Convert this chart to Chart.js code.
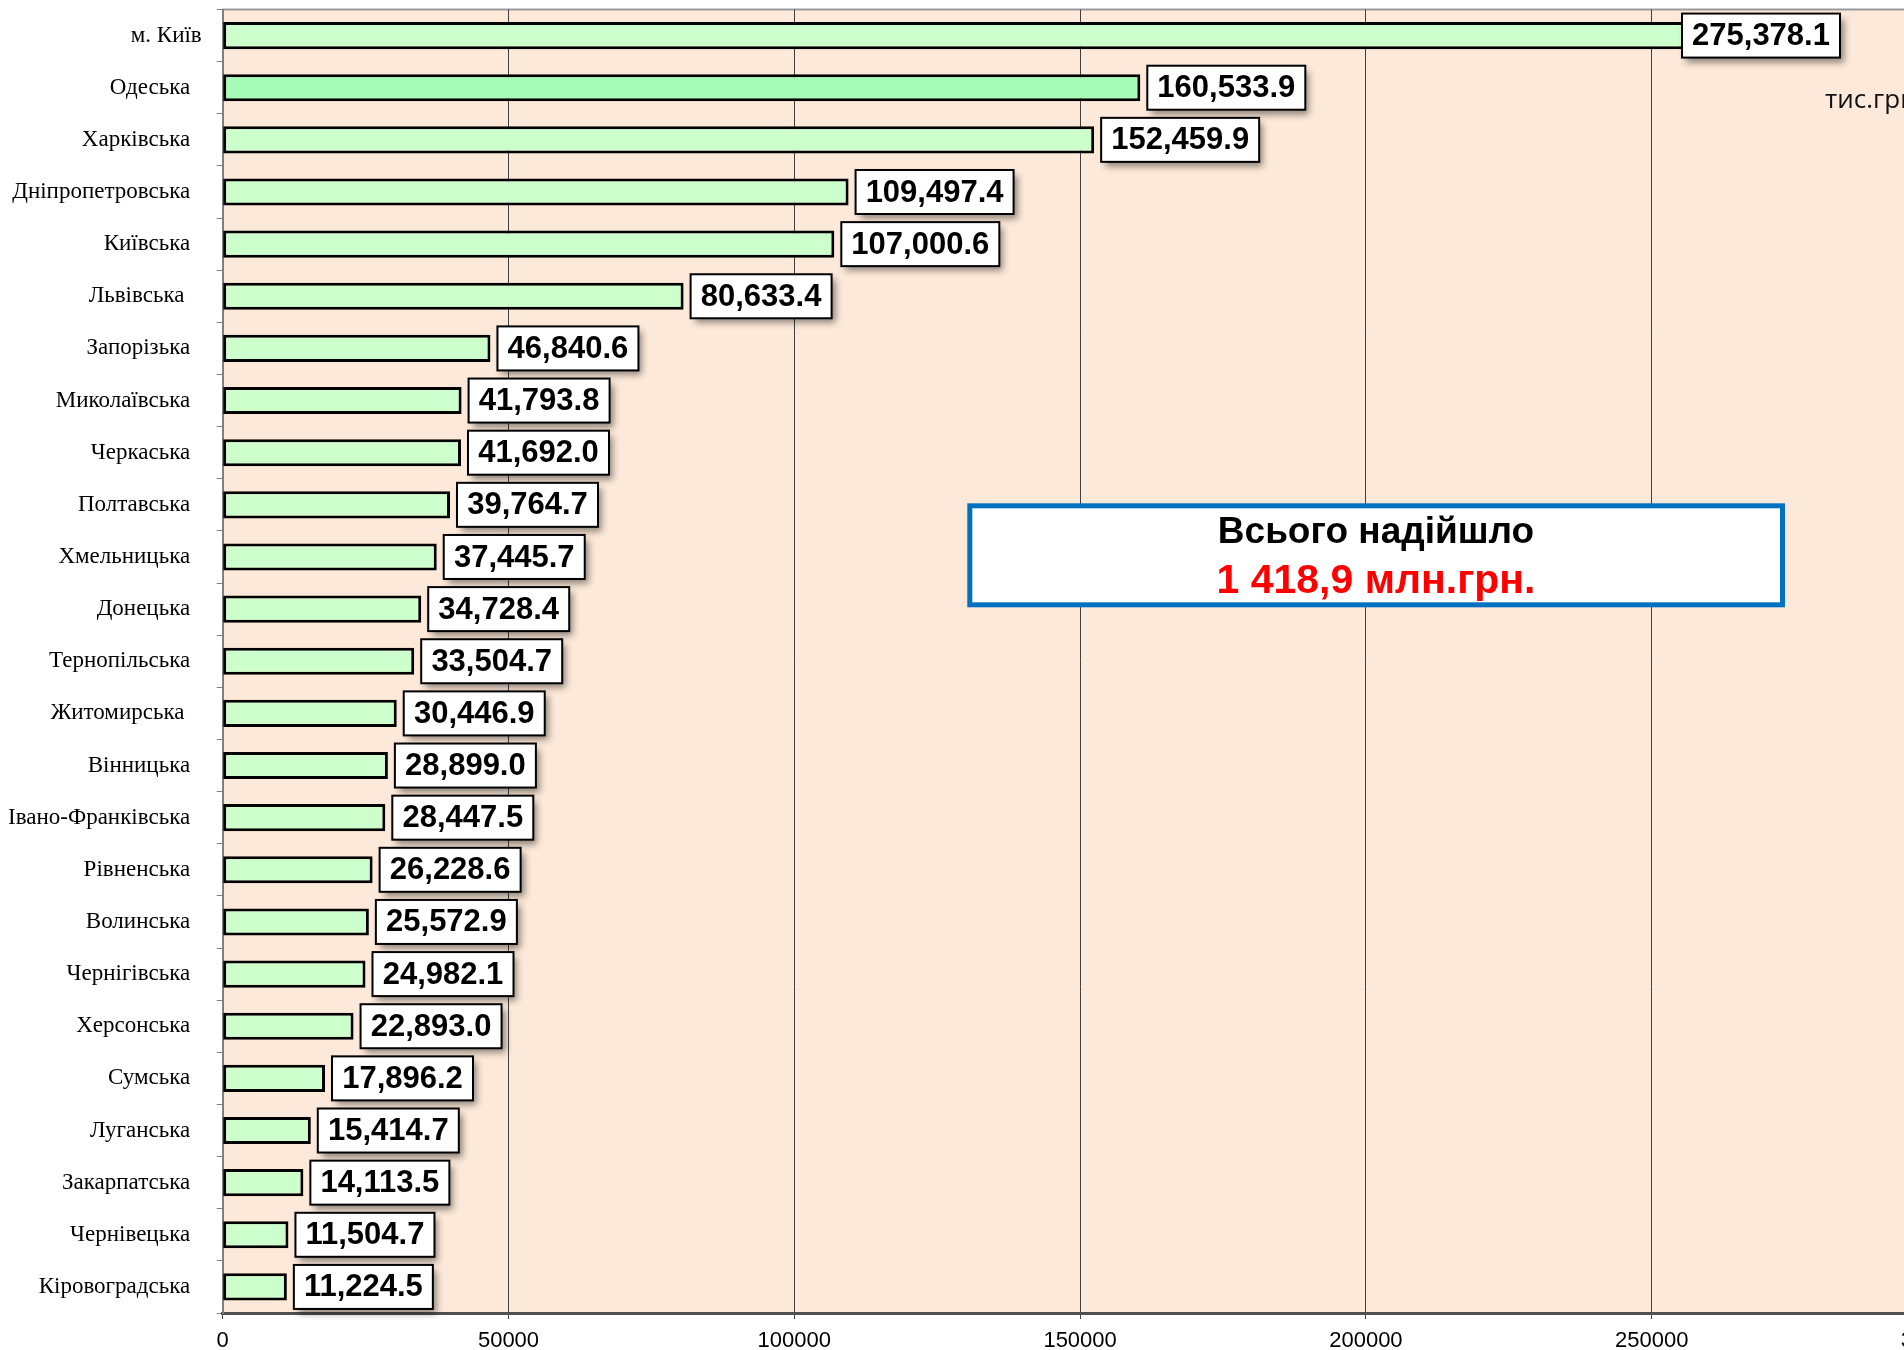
<!DOCTYPE html>
<html>
<head>
<meta charset="utf-8">
<script src="https://cdn.jsdelivr.net/npm/chart.js@4/dist/chart.umd.min.js"></script>
<style>
  html, body { margin: 0; padding: 0; background: #fff; overflow: hidden; }
  #wrap { width: 1904px; height: 1350px; overflow: hidden; position: relative; }
  #chart { position: absolute; left: 0; top: 0; }
</style>
</head>
<body>
<div id="wrap"><canvas id="chart" width="2000" height="1350"></canvas></div>
<script>
'use strict';

// regions (label text kept as in the source, incl. trailing spaces)
const regions = [
  'м. Київ', 'Одеська  ', 'Харківська  ', 'Дніпропетровська  ', 'Київська  ',
  'Львівська   ', 'Запорізька  ', 'Миколаївська  ', 'Черкаська  ', 'Полтавська  ',
  'Хмельницька  ', 'Донецька  ', 'Тернопільська  ', 'Житомирська   ', 'Вінницька  ',
  'Івано-Франківська  ', 'Рівненська  ', 'Волинська  ', 'Чернігівська  ', 'Херсонська  ',
  'Сумська  ', 'Луганська  ', 'Закарпатська  ', 'Чернівецька  ', 'Кіровоградська  '
];

// тис.грн
const received = [
  275378.1, 160533.9, 152459.9, 109497.4, 107000.6,
  80633.4, 46840.6, 41793.8, 41692.0, 39764.7,
  37445.7, 34728.4, 33504.7, 30446.9, 28899.0,
  28447.5, 26228.6, 25572.9, 24982.1, 22893.0,
  17896.2, 15414.7, 14113.5, 11504.7, 11224.5
];

const xTicks = [0, 50000, 100000, 150000, 200000, 250000, 300000];

const unitText = 'тис.грн';
const totalTitle = 'Всього надійшло';
const totalText = '1 418,9 млн.грн.';
const highlighted = 'Одеська';

const fmt = v => v.toLocaleString('en-US', { minimumFractionDigits: 1, maximumFractionDigits: 1 });

const plotBackground = {
  id: 'plotBackground',
  beforeDraw(chart) {
    const { ctx, chartArea: a } = chart;
    ctx.save();
    ctx.fillStyle = '#FDE9D9';
    ctx.fillRect(a.left, a.top, a.right - a.left, a.bottom - a.top);
    ctx.strokeStyle = '#999';
    ctx.lineWidth = 2;
    ctx.beginPath();
    ctx.moveTo(a.left, a.top);
    ctx.lineTo(a.right, a.top);
    ctx.stroke();
    ctx.restore();
  }
};

const valueBoxes = {
  id: 'valueBoxes',
  afterDatasetsDraw(chart) {
    const ctx = chart.ctx;
    const meta = chart.getDatasetMeta(0);
    const visibleRight = 1840;
    ctx.save();
    ctx.font = 'bold 31px "Liberation Sans", Arial, sans-serif';
    meta.data.forEach((bar, i) => {
      const text = fmt(received[i]);
      const w = Math.round(ctx.measureText(text).width + 20);
      const h = 44;
      let x = Math.min(bar.x + 7, visibleRight - w);
      const y = bar.y - h / 2;
      ctx.shadowColor = 'rgba(0,0,0,0.45)';
      ctx.shadowBlur = 7;
      ctx.shadowOffsetX = 4;
      ctx.shadowOffsetY = 5;
      ctx.fillStyle = '#fff';
      ctx.fillRect(x, y, w, h);
      ctx.shadowColor = 'transparent';
      ctx.lineWidth = 2;
      ctx.strokeStyle = '#000';
      ctx.strokeRect(x, y, w, h);
      ctx.fillStyle = '#000';
      ctx.textAlign = 'center';
      ctx.textBaseline = 'middle';
      ctx.fillText(text, x + w / 2, bar.y + 1);
    });
    ctx.restore();
  }
};

const notes = {
  id: 'notes',
  afterDraw(chart) {
    const ctx = chart.ctx;
    ctx.save();
    // units
    ctx.fillStyle = '#111';
    ctx.font = '26px "Open Sans", sans-serif';
    ctx.textAlign = 'left';
    ctx.textBaseline = 'alphabetic';
    ctx.fillText(unitText, 1825, 108);
    // total box
    ctx.fillStyle = '#fff';
    ctx.fillRect(969.8, 505.8, 812.7, 99);
    ctx.strokeStyle = '#0070C0';
    ctx.lineWidth = 5;
    ctx.strokeRect(969.8, 505.8, 812.7, 99);
    ctx.textAlign = 'center';
    ctx.fillStyle = '#000';
    ctx.font = 'bold 37px "Liberation Sans", Arial, sans-serif';
    ctx.fillText(totalTitle, 1376, 543);
    ctx.fillStyle = '#FF0000';
    ctx.font = 'bold 41px "Liberation Sans", Arial, sans-serif';
    ctx.fillText(totalText, 1376, 593);
    ctx.restore();
  }
};

const ctx = document.getElementById('chart').getContext('2d');
const chart = new Chart(ctx, {
  type: 'bar',
  data: {
    labels: regions,
    datasets: [{
      data: received,
      backgroundColor: c => regions[c.dataIndex].trim() === highlighted ? '#A6FBB6' : '#CCFFCC',
      borderColor: '#000',
      borderWidth: 3,
      borderSkipped: false,
      barPercentage: 0.52,
      categoryPercentage: 1
    }]
  },
  options: {
    indexAxis: 'y',
    responsive: false,
    animation: false,
    devicePixelRatio: 1,
    layout: { padding: { left: 0, top: 9.5, right: 62.5, bottom: 0 } },
    plugins: {
      legend: { display: false },
      tooltip: { enabled: false }
    },
    scales: {
      x: {
        min: 0,
        max: 300000,
        afterBuildTicks: s => { s.ticks = xTicks.map(v => ({ value: v })); },
        afterFit: s => { s.height = 37; s.paddingLeft = 0; s.paddingRight = 0; },
        grid: { color: '#404040', lineWidth: 1, tickLength: 6 },
        border: { color: '#505050', width: 3 },
        ticks: {
          color: '#000',
          padding: 9,
          maxRotation: 0,
          font: { family: '"Liberation Sans", Arial, sans-serif', size: 22 },
          callback: v => String(v)
        }
      },
      y: {
        afterFit: s => { s.width = 222.7; s.paddingTop = 0; s.paddingBottom = 0; },
        grid: { drawOnChartArea: false, drawTicks: true, tickLength: 6, color: '#808080', offset: true },
        border: { color: '#808080', width: 2 },
        ticks: {
          color: '#000',
          padding: 15,
          autoSkip: false,
          font: { family: '"Liberation Serif", "Times New Roman", serif', size: 23 }
        }
      }
    }
  },
  plugins: [plotBackground, valueBoxes, notes]
});
</script>
</body>
</html>
